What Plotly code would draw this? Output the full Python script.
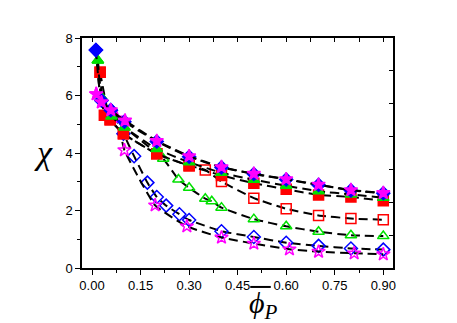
import plotly.graph_objects as go

# filled series
x_fd = [0.012, 0.029, 0.058, 0.1, 0.2, 0.3, 0.4, 0.5, 0.6, 0.7, 0.8, 0.9]
y_fd = [7.58, 5.83, 5.49, 5.09, 4.40, 3.87, 3.50, 3.27, 3.08, 2.89, 2.70, 2.60]

x_fs = [0.013, 0.029, 0.058, 0.102, 0.2, 0.3, 0.4, 0.5, 0.6, 0.7, 0.8, 0.9]
y_fs = [6.05, 5.77, 5.49, 5.13, 4.42, 3.89, 3.51, 3.28, 3.09, 2.90, 2.71, 2.61]

x_ft = [0.018, 0.029, 0.06, 0.1, 0.2, 0.3, 0.4, 0.5, 0.6, 0.7, 0.8, 0.9]
y_ft = [7.22, 5.94, 5.27, 4.89, 4.14, 3.68, 3.31, 3.07, 2.86, 2.67, 2.56, 2.44]

x_fq = [0.025, 0.038, 0.056, 0.097, 0.2, 0.3, 0.4, 0.5, 0.6, 0.7, 0.8, 0.9]
y_fq = [6.81, 5.31, 5.16, 4.67, 3.97, 3.56, 3.22, 2.95, 2.74, 2.54, 2.47, 2.34]

# open series
x_oq = [0.025, 0.056, 0.097, 0.2, 0.3, 0.35, 0.4, 0.5, 0.6, 0.7, 0.8, 0.9]
y_oq = [6.81, 5.16, 4.67, 3.97, 3.56, 3.41, 3.01, 2.43, 2.06, 1.83, 1.72, 1.68]

x_ot = [0.018, 0.029, 0.06, 0.1, 0.22, 0.267, 0.3, 0.35, 0.37, 0.4, 0.5, 0.6, 0.7, 0.8, 0.9]
y_ot = [7.22, 5.94, 5.27, 4.89, 3.80, 3.08, 2.79, 2.41, 2.32, 2.10, 1.70, 1.45, 1.26, 1.14, 1.11]

x_od = [0.012, 0.029, 0.058, 0.097, 0.13, 0.171, 0.2, 0.229, 0.27, 0.3, 0.4, 0.5, 0.6, 0.7, 0.8, 0.9]
y_od = [7.58, 5.83, 5.49, 4.67, 3.89, 2.97, 2.47, 2.17, 1.87, 1.67, 1.28, 1.08, 0.88, 0.77, 0.68, 0.64]

x_os = [0.013, 0.029, 0.077, 0.1, 0.195, 0.293, 0.4, 0.5, 0.61, 0.7, 0.81, 0.9]
y_os = [6.05, 5.77, 5.2, 4.1, 2.18, 1.45, 1.06, 0.85, 0.65, 0.57, 0.51, 0.48]

x_ticks = [0.0, 0.15, 0.30, 0.45, 0.60, 0.75, 0.90]

series = [
    (x_oq, y_oq, "square-open", "#FF0000"),
    (x_ot, y_ot, "triangle-up-open", "#00E000"),
    (x_od, y_od, "diamond-open", "#0000FF"),
    (x_os, y_os, "star-open", "#FF00FF"),
    (x_fq, y_fq, "square", "#FF0000"),
    (x_ft, y_ft, "triangle-up", "#00E000"),
    (x_fd, y_fd, "diamond", "#0000FF"),
    (x_fs, y_fs, "star", "#FF00FF"),
]

fig = go.Figure()
for xs, ys, sym, col in series:
    fig.add_trace(go.Scatter(
        x=xs, y=ys, mode="lines+markers",
        line=dict(color="black", width=2, dash="9px,5px", shape="spline", smoothing=0.4),
        marker=dict(symbol=sym, size=10, color=col,
                    line=dict(color=col, width=1.5)),
        showlegend=False,
    ))

# invisible point so the mirror axes get drawn
fig.add_trace(go.Scatter(x=[0.5], y=[3], xaxis="x2", yaxis="y2",
                         mode="markers", marker=dict(opacity=0),
                         showlegend=False, hoverinfo="skip"))

tick_font = dict(family="Liberation Sans, Arial", size=13, color="black")

# page body adds an 8px offset, margins compensate
fig.update_layout(
    width=457, height=323,
    margin=dict(l=74, r=72, t=30, b=63),
    plot_bgcolor="white", paper_bgcolor="white",
    xaxis=dict(range=[-0.031, 0.93], tickvals=x_ticks, tickformat=".2f",
               ticks="outside", ticklen=5, tickwidth=1.2, tickcolor="black",
               minor=dict(dtick=0.075, tick0=0, ticks="outside", ticklen=3, tickcolor="black"),
               showline=True, linecolor="black", linewidth=1.5,
               showgrid=False, zeroline=False, tickfont=tick_font),
    xaxis2=dict(range=[-0.031, 0.93], overlaying="x", side="top",
                dtick=0.075, tick0=0, ticks="inside", ticklen=4, tickcolor="black",
                showticklabels=False, showline=True, linecolor="black", linewidth=1.5,
                showgrid=False, zeroline=False),
    yaxis=dict(range=[0, 8], dtick=2, ticks="outside", ticklen=5, tickwidth=1.2,
               tickcolor="black",
               minor=dict(dtick=1, ticks="outside", ticklen=3, tickcolor="black"),
               showline=True, linecolor="black", linewidth=1.5,
               showgrid=False, zeroline=False, tickfont=tick_font),
    yaxis2=dict(range=[0, 7], dtick=1, overlaying="y", side="right", anchor="x",
                ticks="inside", ticklen=4, tickcolor="black",
                showticklabels=False, showline=True, linecolor="black", linewidth=1.5,
                showgrid=False, zeroline=False),
)

fig.add_annotation(text="<i>χ</i>", xref="paper", yref="paper", x=-0.124, y=0.504,
                   xanchor="center", yanchor="middle", showarrow=False,
                   font=dict(family="Liberation Serif, Times New Roman", size=34, color="black"))
fig.add_annotation(text="<i>ϕ</i><sub><i>P</i></sub>", xref="paper", yref="paper",
                   x=0.585, y=-0.162, xanchor="center", yanchor="middle", showarrow=False,
                   font=dict(family="Liberation Serif, Times New Roman", size=30, color="black"))
fig.add_shape(type="line", xref="paper", yref="paper", x0=0.541, x1=0.607,
              y0=-0.0824, y1=-0.0824, line=dict(color="black", width=2))

fig.write_html("out.html")
